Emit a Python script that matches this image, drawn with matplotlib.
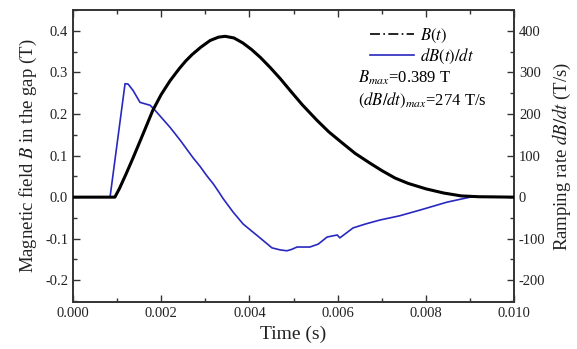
import matplotlib
matplotlib.use('Agg')
import matplotlib.pyplot as plt
from matplotlib.lines import Line2D

plt.rcParams['font.family'] = ['Liberation Serif', 'DejaVu Serif']
plt.rcParams['mathtext.fontset'] = 'stix'
plt.rcParams['axes.unicode_minus'] = False

# B(t) (time in s, field in T)
t_b = [0, 0.00095, 0.00105, 0.00120, 0.00136, 0.00160, 0.00181, 0.00200, 0.00220,
       0.00240, 0.00255, 0.00270, 0.00290, 0.00311, 0.00330, 0.00345, 0.00365,
       0.00385, 0.00405, 0.00425, 0.00447, 0.00470, 0.00492, 0.00520, 0.00553,
       0.00580, 0.00612, 0.00640, 0.00673, 0.00700, 0.00730, 0.00760, 0.00800,
       0.00840, 0.00880, 0.00920, 0.01]
b_val = [0, 0, 0.020, 0.055, 0.094, 0.155, 0.209, 0.247, 0.280, 0.308, 0.327,
         0.343, 0.361, 0.377, 0.385, 0.387, 0.383, 0.371, 0.355, 0.336, 0.312,
         0.285, 0.257, 0.222, 0.185, 0.157, 0.129, 0.105, 0.082, 0.064, 0.046,
         0.033, 0.020, 0.010, 0.003, 0.001, 0]

# dB/dt (T/s)
t_d = [0, 0.00084, 0.00118, 0.00125, 0.00136, 0.00152, 0.00175, 0.00186, 0.00220,
       0.00243, 0.00272, 0.00288, 0.00303, 0.00318, 0.00329, 0.00340, 0.00363,
       0.00386, 0.00424, 0.00451, 0.00470, 0.00485, 0.00495, 0.00508, 0.00537,
       0.00556, 0.00576, 0.00599, 0.00605, 0.00635, 0.00665, 0.00696, 0.00740,
       0.00787, 0.00848, 0.00900, 0.00950, 0.01]
d_val = [0, 0, 273, 272, 257, 228, 221, 209, 168, 137, 95, 74, 52, 32, 15, -3,
         -36, -65, -98, -122, -127, -129, -126, -120, -120, -113, -96, -91, -98,
         -74, -64, -55, -45, -31, -12, 0, 1, 0]

xticks = [0.000, 0.002, 0.004, 0.006, 0.008, 0.010]
left_ticks = [-0.2, -0.1, 0.0, 0.1, 0.2, 0.3, 0.4]
right_ticks = [-200, -100, 0, 100, 200, 300, 400]

fig = plt.figure(figsize=(5.77, 3.49), dpi=100)
ax = fig.add_axes([0.1265, 0.135, 0.7645, 0.836])
ax2 = ax.twinx()

ax.plot(t_b, b_val, color='black', lw=2.2, zorder=3)
ax2.plot(t_d, d_val, color='#2828c0', lw=1.2)

ax.set_xlim(0, 0.010)
ax.set_ylim(-0.252, 0.448)
ax2.set_ylim(-252, 448)
ax.set_zorder(ax2.get_zorder() + 1)
ax.patch.set_visible(False)

ax.set_xticks(xticks)
ax.set_xticklabels(['%.3f' % v for v in xticks])
ax.set_xticks([0.001, 0.003, 0.005, 0.007, 0.009], minor=True)
ax.set_yticks(left_ticks)
ax.set_yticklabels(['%.1f' % v for v in left_ticks])
ax.set_yticks([-0.25, -0.15, -0.05, 0.05, 0.15, 0.25, 0.35, 0.45], minor=True)
ax2.set_yticks(right_ticks)
ax2.set_yticks([-250, -150, -50, 50, 150, 250, 350, 450], minor=True)

for a in (ax, ax2):
    a.tick_params(which='both', direction='in', labelsize=10.5, color='#333333',
                  labelcolor='#222222')
    a.tick_params(which='major', length=5, width=1)
    a.tick_params(which='minor', length=3, width=1)
    for s in a.spines.values():
        s.set_linewidth(1.2)
        s.set_color('#333333')
ax.tick_params(which='both', top=True)

ax.set_xlabel('Time (s)', fontsize=14, color='#222222')
ax.set_ylabel('Magnetic field $B$ in the gap (T)', fontsize=13.5, color='#222222')
ax2.set_ylabel('Ramping rate $dB/dt$ (T/s)', fontsize=13.5, color='#222222')

handles = [Line2D([], [], color='black', lw=1.2, ls=(0, (6, 2, 1, 2))),
           Line2D([], [], color='#2828c0', lw=1.2)]
ax.legend(handles, ['$B(t)$', '$dB(t)/dt$'], loc='upper left',
          bbox_to_anchor=(0.64, 0.995), frameon=False, fontsize=12,
          handlelength=2.6, labelspacing=0.15, handletextpad=0.4)

ax.text(0.645, 0.75, '$B_{max}$=0.389 T', transform=ax.transAxes, fontsize=12)
ax.text(0.645, 0.675, '$(dB/dt)_{max}$=274 T/s', transform=ax.transAxes, fontsize=12)

fig.savefig('out.png', dpi=100)
